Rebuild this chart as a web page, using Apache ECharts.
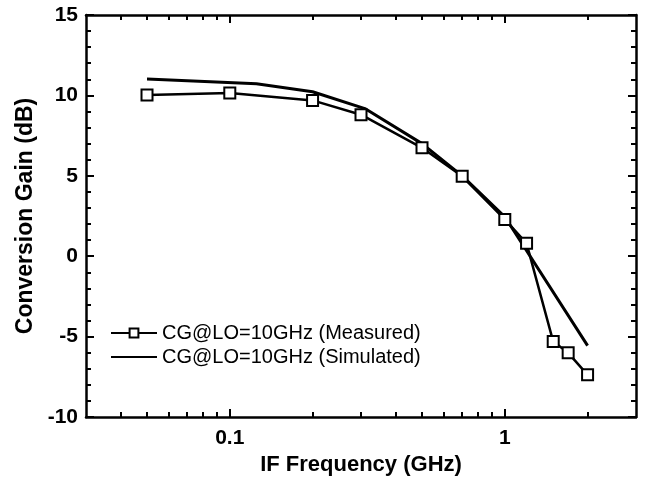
<!DOCTYPE html>
<html>
<head>
<meta charset="utf-8">
<script src="https://cdn.jsdelivr.net/npm/echarts@6/dist/echarts.min.js"></script>
<style>
  html, body { margin: 0; padding: 0; background: #fff; }
  #chart-ctn { width: 646px; height: 481px; }
</style>
</head>
<body>
<div id="chart-ctn"></div>
<script>
// measured curve
var measFreq = [0.05, 0.1, 0.2, 0.3, 0.5, 0.7, 1.0, 1.2, 1.5, 1.7, 2.0];
var measGain = [10.02, 10.15, 9.69, 8.8, 6.74, 4.97, 2.29, 0.8, -5.31, -6.01, -7.38];

// simulated curve
var simFreq = [0.05, 0.125, 0.2, 0.31, 0.5, 0.7, 1.0, 2.0];
var simGain = [11.02, 10.73, 10.23, 9.18, 7.0, 5.0, 2.45, -5.56];

var xMajor = [0.1, 1];
var xMinor = [0.04, 0.05, 0.06, 0.07, 0.08, 0.09, 0.2, 0.3, 0.4, 0.5, 0.6, 0.7, 0.8, 0.9, 2];

var legendNames = ['CG@LO=10GHz (Measured)', 'CG@LO=10GHz (Simulated)'];

var font = 'Liberation Sans, Arial, sans-serif';

function pairs(xs, ys) {
  var out = [];
  for (var i = 0; i < xs.length; i++) out.push([xs[i], ys[i]]);
  return out;
}

function xAxisSet(pos, ticks, len, main) {
  return {
    type: 'log',
    logBase: 10,
    min: 0.03,
    max: 3,
    position: pos,
    axisLine: {show: main, onZero: false, lineStyle: {color: '#000', width: 2.5}},
    axisTick: {show: true, inside: true, length: len, customValues: ticks, lineStyle: {color: '#000', width: 2}},
    axisLabel: {
      show: main && pos == 'bottom',
      customValues: xMajor,
      margin: 11,
      color: '#000',
      fontFamily: font,
      fontWeight: 'bold',
      fontSize: 21,
      formatter: function(v) { return String(v); }
    },
    splitLine: {show: false},
    name: (main && pos == 'bottom') ? 'IF Frequency (GHz)' : '',
    nameLocation: 'middle',
    nameGap: 37,
    nameTextStyle: {color: '#000', fontFamily: font, fontWeight: 'bold', fontSize: 22}
  };
}

function yAxisSet(pos, main) {
  return {
    type: 'value',
    min: -10,
    max: 15,
    interval: 5,
    position: pos,
    axisLine: {show: true, onZero: false, lineStyle: {color: '#000', width: 2.5}},
    axisTick: {show: true, inside: true, length: 8, lineStyle: {color: '#000', width: 2}},
    minorTick: {show: true, splitNumber: 5, length: 5, lineStyle: {color: '#000', width: 2}},
    axisLabel: {
      show: main,
      margin: 8,
      color: '#000',
      fontFamily: font,
      fontWeight: 'bold',
      fontSize: 21
    },
    splitLine: {show: false},
    minorSplitLine: {show: false},
    name: main ? 'Conversion Gain (dB)' : '',
    nameLocation: 'middle',
    nameGap: 48,
    nameTextStyle: {color: '#000', fontFamily: font, fontWeight: 'bold', fontSize: 23}
  };
}

var myChart = echarts.init(document.getElementById('chart-ctn'));

var option = {
  animation: false,
  backgroundColor: '#fff',
  grid: {left: 86, right: 10, top: 15, bottom: 64},
  legend: {
    orient: 'vertical',
    left: 110,
    top: 323,
    padding: 0,
    itemWidth: 46,
    itemHeight: 11,
    itemGap: 4,
    data: [
      {name: legendNames[0]},
      {name: legendNames[1], itemStyle: {opacity: 0}}
    ],
    textStyle: {color: '#000', fontFamily: font, fontSize: 20}
  },
  xAxis: [
    xAxisSet('bottom', xMajor, 8, true),
    xAxisSet('bottom', xMinor, 5, false),
    xAxisSet('top', xMajor, 8, true),
    xAxisSet('top', xMinor, 5, false)
  ],
  yAxis: [
    yAxisSet('left', true),
    yAxisSet('right', false)
  ],
  series: [
    {
      name: legendNames[1],
      type: 'line',
      xAxisIndex: 0,
      yAxisIndex: 0,
      data: pairs(simFreq, simGain),
      showSymbol: false,
      symbol: 'none',
      lineStyle: {color: '#000', width: 3},
      itemStyle: {color: '#000'},
      z: 2
    },
    {
      name: legendNames[0],
      type: 'line',
      xAxisIndex: 0,
      yAxisIndex: 0,
      data: pairs(measFreq, measGain),
      symbol: 'rect',
      symbolSize: 11,
      lineStyle: {color: '#000', width: 2.5},
      itemStyle: {color: '#fff', borderColor: '#000', borderWidth: 2},
      z: 3
    }
  ]
};

myChart.setOption(option);
</script>
</body>
</html>
